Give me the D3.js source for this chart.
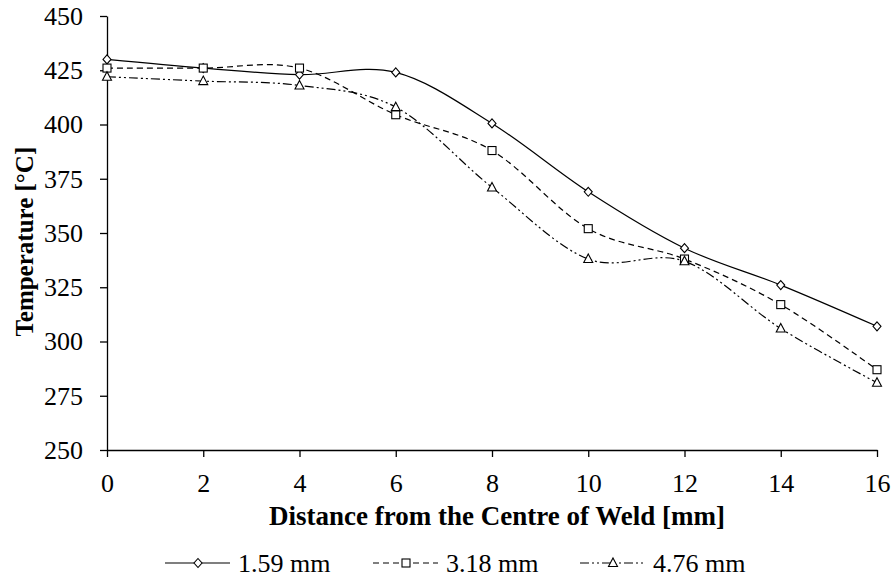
<!DOCTYPE html>
<html lang="en">
<head>
<meta charset="UTF-8">
<title>Temperature vs distance</title>
<style>
  body { margin: 0; background: #fff; }
  text { font-family: "Liberation Serif", "Times New Roman", serif; fill: #000; }
</style>
</head>
<body>
<script src="https://d3js.org/d3.v7.min.js"></script>
<script>
// data
let distances = [0, 2, 4, 6, 8, 10, 12, 14, 16];
let t159 = [430, 426, 423, 424, 400.5, 369, 343, 326, 307];
let t318 = [426, 426, 426, 404.5, 388, 352, 338, 317, 287];
let t476 = [422, 420, 418, 408, 371, 338, 337, 306, 281];
let seriesNames = ["1.59 mm", "3.18 mm", "4.76 mm"];
let yTicks = [250, 275, 300, 325, 350, 375, 400, 425, 450];
let xTicks = [0, 2, 4, 6, 8, 10, 12, 14, 16];

let width = 894, height = 581;
let margin = {top: 16, right: 17, bottom: 131, left: 107};

let svg = d3.select('body').append('svg')
    .attr('width', width)
    .attr('height', height);

let x = d3.scaleLinear().domain([0, 16]).range([margin.left, width - margin.right]);
let y = d3.scaleLinear().domain([250, 450]).range([height - margin.bottom, margin.top]);

// axes
let xAxis = svg.append('g')
    .attr('transform', 'translate(0,' + y(250) + ')')
    .call(d3.axisBottom(x).tickValues(xTicks).tickSize(7).tickPadding(17).tickSizeOuter(0));
let yAxis = svg.append('g')
    .attr('transform', 'translate(' + x(0) + ',0)')
    .call(d3.axisLeft(y).tickValues(yTicks).tickSize(7).tickPadding(17).tickSizeOuter(0));

[xAxis, yAxis].forEach(function(a) {
    a.selectAll('path, line').attr('stroke', '#000').attr('stroke-width', 1.3);
    a.selectAll('text').style('font-size', '26px').attr('fill', '#000')
        .style('font-family', '"Liberation Serif", "Times New Roman", serif');
});

// titles
svg.append('text')
    .attr('x', 497)
    .attr('y', 525)
    .attr('text-anchor', 'middle')
    .style('font-size', '27px')
    .style('font-weight', 'bold')
    .text('Distance from the Centre of Weld [mm]');

svg.append('text')
    .attr('transform', 'translate(33,' + y(346) + ') rotate(-90)')
    .attr('text-anchor', 'middle')
    .style('font-size', '25px')
    .style('font-weight', 'bold')
    .text('Temperature [°C]');

// series
let series = [
    {name: seriesNames[0], values: t159, dash: null, marker: 'diamond'},
    {name: seriesNames[1], values: t318, dash: '6,4', marker: 'square'},
    {name: seriesNames[2], values: t476, dash: '9,3,2,3,2,3', marker: 'triangle'}
];

let line = d3.line()
    .x(function(d, i) { return x(distances[i]); })
    .y(function(d) { return y(d); })
    .curve(d3.curveCardinal.tension(0));

function drawMarker(g, type, cx, cy) {
    if (type === 'diamond') {
        g.append('path')
            .attr('d', 'M' + cx + ',' + (cy - 4.5) + 'L' + (cx + 4) + ',' + cy + 'L' + cx + ',' + (cy + 4.5) + 'L' + (cx - 4) + ',' + cy + 'Z')
            .attr('fill', '#fff').attr('stroke', '#000').attr('stroke-width', 1.1);
    } else if (type === 'square') {
        g.append('rect')
            .attr('x', cx - 4).attr('y', cy - 4).attr('width', 8).attr('height', 8)
            .attr('fill', '#fff').attr('stroke', '#000').attr('stroke-width', 1.1);
    } else {
        g.append('path')
            .attr('d', 'M' + cx + ',' + (cy - 5) + 'L' + (cx + 4.5) + ',' + (cy + 3.5) + 'L' + (cx - 4.5) + ',' + (cy + 3.5) + 'Z')
            .attr('fill', '#fff').attr('stroke', '#000').attr('stroke-width', 1.1);
    }
}

series.forEach(function(s) {
    svg.append('path')
        .datum(s.values)
        .attr('d', line)
        .attr('fill', 'none')
        .attr('stroke', '#000')
        .attr('stroke-width', 1.2)
        .attr('stroke-dasharray', s.dash);
    let g = svg.append('g');
    s.values.forEach(function(v, i) {
        drawMarker(g, s.marker, x(distances[i]), y(v));
    });
});

// legend
let legendX = [165, 373, 580];
let legendY = 563;
series.forEach(function(s, i) {
    let g = svg.append('g');
    g.append('line')
        .attr('x1', legendX[i]).attr('x2', legendX[i] + 65)
        .attr('y1', legendY).attr('y2', legendY)
        .attr('stroke', '#000').attr('stroke-width', 1.2)
        .attr('stroke-dasharray', s.dash);
    drawMarker(g, s.marker, legendX[i] + 33, legendY);
    g.append('text')
        .attr('x', legendX[i] + 73)
        .attr('y', legendY + 9)
        .style('font-size', '26px')
        .text(s.name);
});
</script>
</body>
</html>
